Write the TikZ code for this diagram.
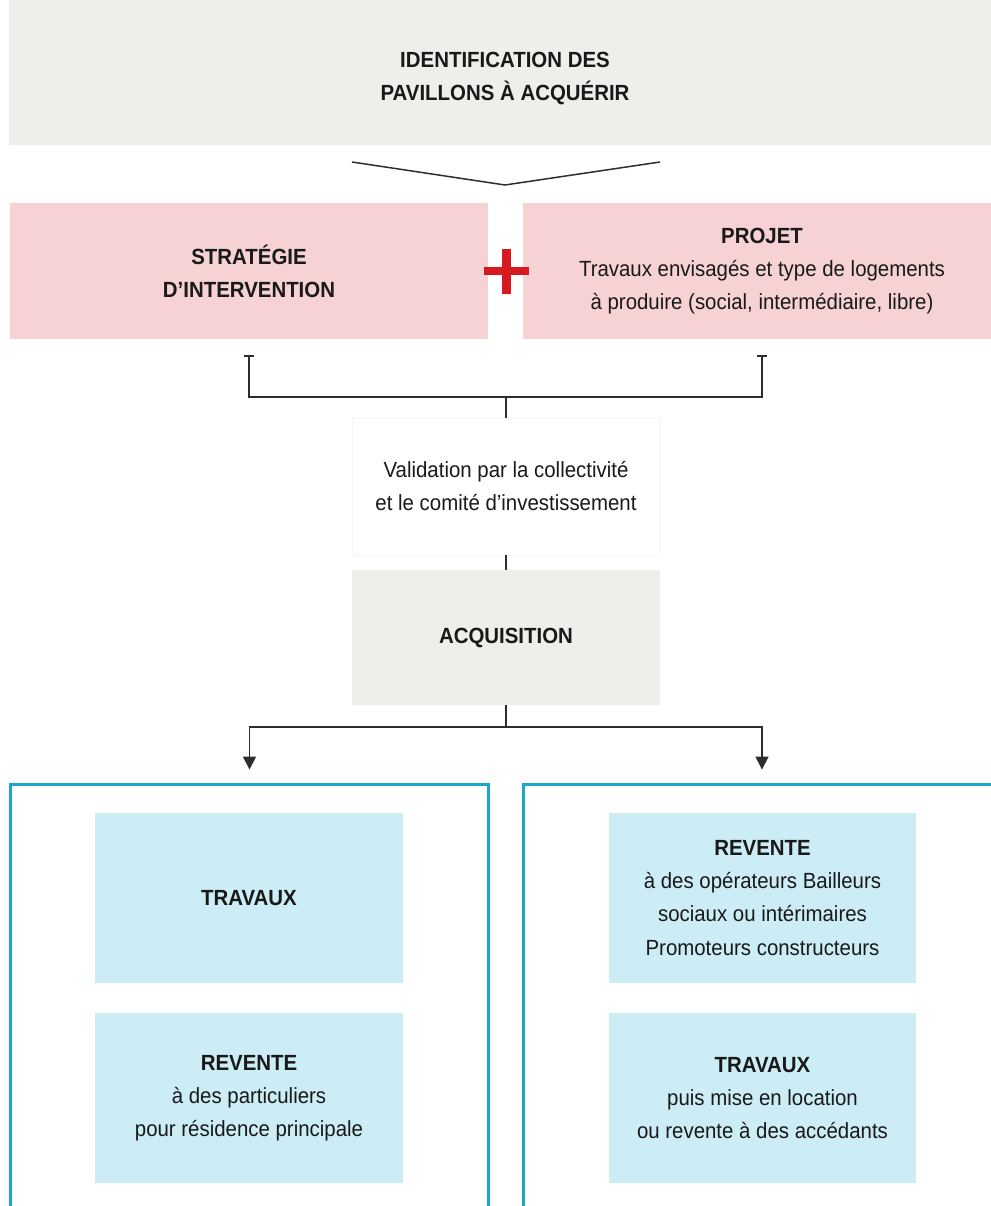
\documentclass[tikz,border=0pt]{standalone}
\usepackage{fontspec}
\setmainfont{Liberation Sans}[FakeStretch=0.93]
\usepackage{tikz}
\usetikzlibrary{arrows.meta,positioning,calc}
\definecolor{PavGrey}{RGB}{239,238,235}
\definecolor{PavPink}{RGB}{246,210,213}
\definecolor{PavRed}{RGB}{215,25,32}
\definecolor{PavBlue}{RGB}{27,166,203}
\definecolor{PavLight}{RGB}{204,237,246}
\definecolor{PavLine}{RGB}{45,45,45}
\definecolor{PavText}{RGB}{25,25,25}
\tikzset{
  gbox/.style={fill=PavGrey,minimum width=6.16cm,minimum height=2.7cm,align=center,text=PavText},
  pbox/.style={fill=PavPink,minimum width=9.56cm,minimum height=2.72cm,align=center,text=PavText},
  vbox/.style={draw=black!4,fill=white,minimum width=6.16cm,minimum height=2.74cm,align=center,text=PavText},
  frame/.style={draw=PavBlue,line width=0.06cm,minimum width=9.56cm,minimum height=8.92cm},
  lbox/.style={fill=PavLight,minimum width=6.16cm,minimum height=3.4cm,align=center,text=PavText},
  conn/.style={PavLine,line width=0.03cm},
  tbar/.style={conn,{Bar[width=0.2cm]}-{Bar[width=0.2cm]}},
  arr/.style={conn,-{Triangle[width=0.26cm,length=0.26cm]}},
}

\begin{document}
\begin{tikzpicture}[x=0.02cm,y=-0.02cm,font=\fontsize{12.5}{18.8}\selectfont]
        \useasboundingbox (0,0) rectangle (990,1206);
        % top
        \node[gbox,minimum width=19.84cm,minimum height=2.9cm,text height=1.21cm] (ident) at (505,72.5) {\textbf{IDENTIFICATION DES}\\\textbf{PAVILLONS À ACQUÉRIR}};
        \coordinate (vl) at (352,162); \coordinate (vr) at (660,162); \coordinate (vapex) at (505,185);
        \draw[conn] (vl) -- (vapex) -- (vr);
        % strategy + project
        \node[pbox] (strat) at (249,271) {\textbf{STRATÉGIE}\\\textbf{D’INTERVENTION}};
        \node[pbox] (projet) at (762,271) {\textbf{PROJET}\\Travaux envisagés et type de logements\\à produire (social, intermédiaire, libre)};
        \draw[PavRed,line width=0.18cm] (483.5,271) -- (528.5,271) (506,248.5) -- (506,293.5);
        % validation and acquisition
        \node[vbox] (valid) at (506,486.5) {Validation par la collectivité\\et le comité d’investissement};
        \node[gbox] (acq) at (506,637.5) {\textbf{ACQUISITION}};
        \coordinate (join) at (506,397);
        \draw[tbar] ([yshift=-0.32cm]strat.south) |- (join) -| ([yshift=-0.32cm]projet.south);
        \draw[conn] (join) -- (valid.north);
        \draw[conn] (valid.south) -- (acq.north);
        % two outcomes
        \node[frame] (lframe) at (249.5,1007) {};
        \node[frame] (rframe) at (762,1007) {};
        \coordinate (split) at (506,727);
        \draw[conn] (acq.south) -- (split);
        \draw[arr] (split) -| ([yshift=0.26cm]lframe.north);
        \draw[arr] (split) -| ([yshift=0.26cm]rframe.north);
        \node[lbox] (ltrav) at (249,898) {\textbf{TRAVAUX}};
        \node[lbox] (lrev) at (249,1098) {\textbf{REVENTE}\\à des particuliers\\pour résidence principale};
        \node[lbox] (rrev) at (762.5,898) {\textbf{REVENTE}\\à des opérateurs Bailleurs\\sociaux ou intérimaires\\Promoteurs constructeurs};
        \node[lbox] (rtrav) at (762.5,1098) {\textbf{TRAVAUX}\\puis mise en location\\ou revente à des accédants};
      \end{tikzpicture}
\end{document}
